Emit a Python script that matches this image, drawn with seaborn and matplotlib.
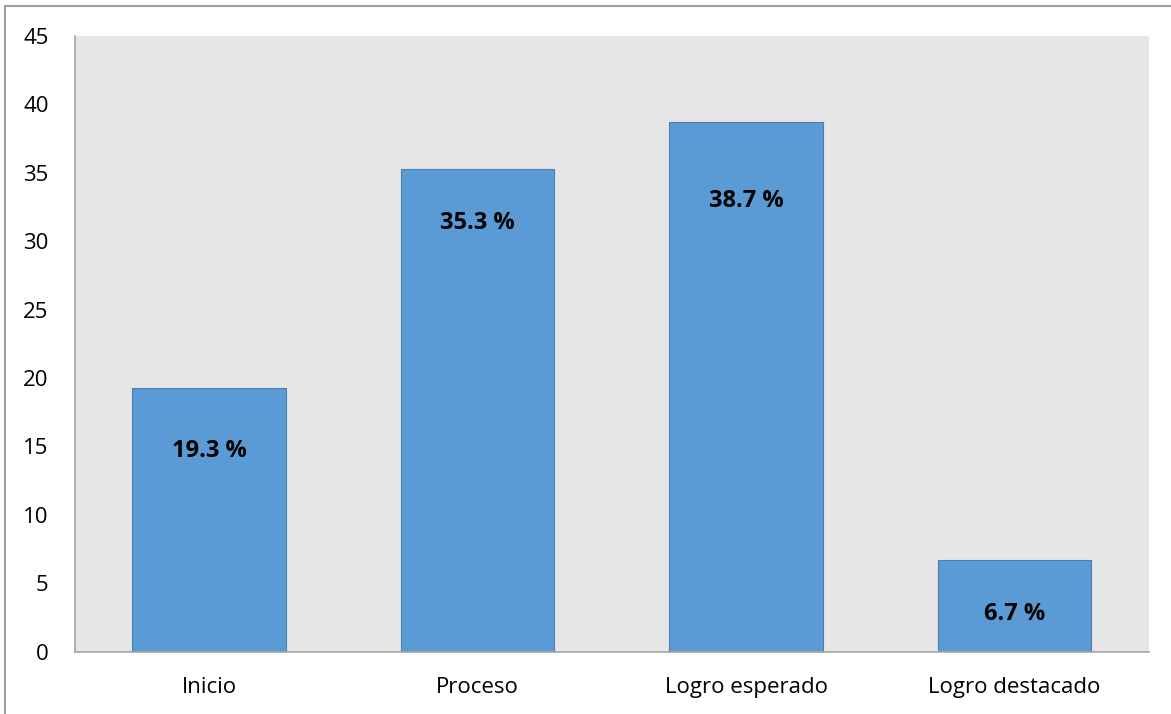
import matplotlib
matplotlib.use("Agg")
import matplotlib.pyplot as plt
import seaborn as sns
import pandas as pd
from matplotlib.lines import Line2D

# chart values
categorias = ["Inicio", "Proceso", "Logro esperado", "Logro destacado"]
porcentajes = [19.3, 35.3, 38.7, 6.7]
etiquetas = ["19.3 %", "35.3 %", "38.7 %", "6.7 %"]
# vertical position of each label (data units), as placed in the original
etiqueta_y = [14.7, 31.3, 32.9, 2.8]
yticks = [0, 5, 10, 15, 20, 25, 30, 35, 40, 45]

df = pd.DataFrame({"categoria": categorias, "porcentaje": porcentajes})

sns.set_style("white")
plt.rcParams["font.family"] = ["Open Sans", "DejaVu Sans"]

fig = plt.figure(figsize=(11.71, 7.14), dpi=100)
ax = fig.add_axes([0.064, 0.087, 0.917, 0.863])
ax.set_facecolor("#E6E6E6")

sns.barplot(data=df, x="categoria", y="porcentaje", color="#5B9BD5",
            saturation=1, width=0.572, edgecolor="#4A7FB0", linewidth=0.8, ax=ax)

for i, (txt, yy) in enumerate(zip(etiquetas, etiqueta_y)):
    ax.text(i, yy, txt, ha="center", va="center", fontsize=17,
            fontweight="bold", color="black")

ax.set_ylim(0, 45)
ax.set_xlim(-0.5, 3.5)
ax.set_yticks(yticks)
ax.set_xlabel("")
ax.set_ylabel("")
ax.tick_params(axis="both", labelsize=16, length=0, colors="black")
ax.tick_params(axis="x", pad=18)
ax.tick_params(axis="y", pad=19)

for s in ["top", "right"]:
    ax.spines[s].set_visible(False)
for s in ["left", "bottom"]:
    ax.spines[s].set_color("#A6A6A6")
    ax.spines[s].set_linewidth(1.2)

# outer frame lines (top and left edges of the chart area)
fig.add_artist(Line2D([0.0045, 1.0], [0.992, 0.992], transform=fig.transFigure,
                      color="#A0A0A0", linewidth=1.5))
fig.add_artist(Line2D([0.0045, 0.0045], [0.0, 0.992], transform=fig.transFigure,
                      color="#A0A0A0", linewidth=1.5))

fig.savefig("out.png", dpi=100)
